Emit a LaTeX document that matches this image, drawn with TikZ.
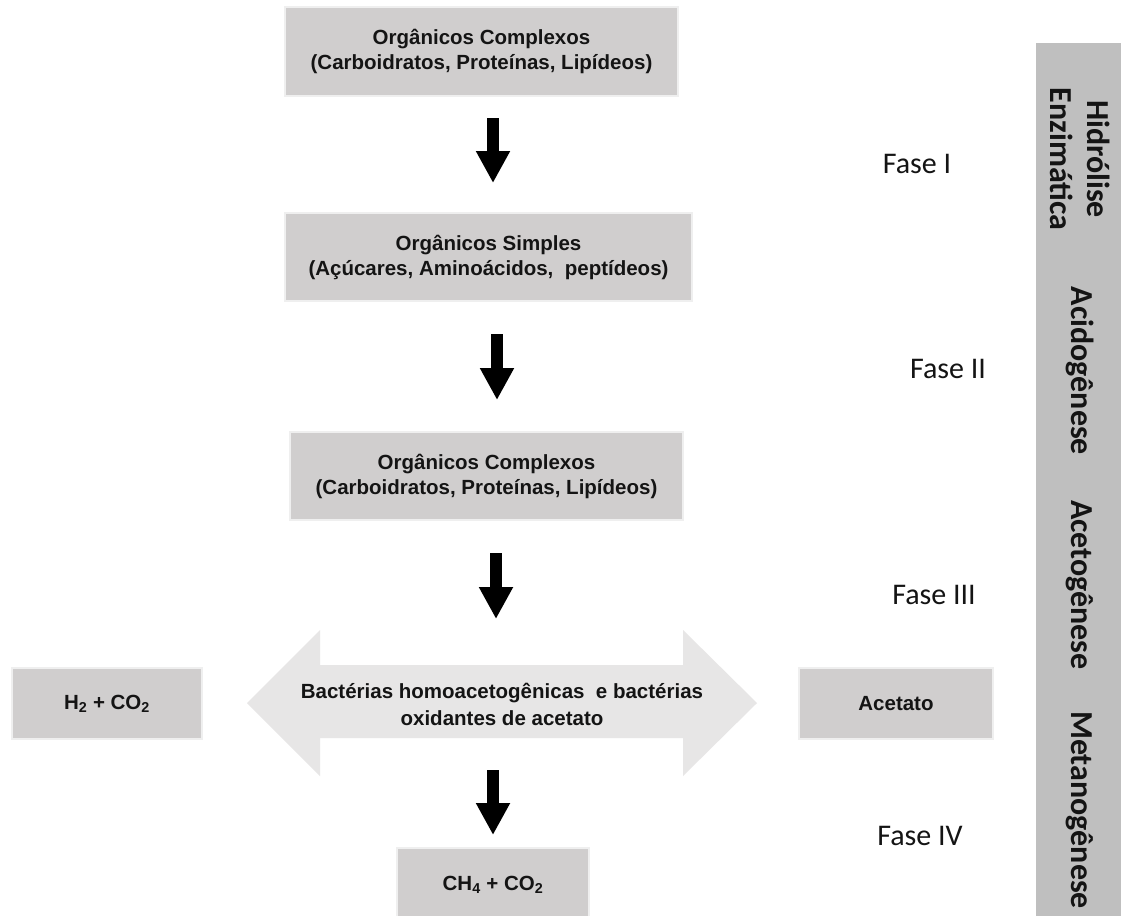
\documentclass[tikz,border=0pt]{standalone}
\usepackage{fontspec}
\setmainfont{Liberation Sans}
\newfontfamily\calfont{Carlito}
\usetikzlibrary{arrows.meta}
\definecolor{boxgray}{HTML}{D0CECE}
\definecolor{boxedge}{HTML}{EFEFEF}
\definecolor{arrowgray}{HTML}{E7E6E6}
\definecolor{bargray}{HTML}{BFBFBF}
\definecolor{ink}{HTML}{141414}
\begin{document}
\begin{tikzpicture}[x=1pt,y=-1pt,
  box/.style={fill=boxgray, draw=boxedge, line width=1.5pt, inner sep=0pt, align=center, text=ink,
    font=\fontsize{20.5}{25}\selectfont\bfseries},
  blk/.style={line width=12pt, -{Triangle[width=32pt,length=32pt]}},
  fase/.style={font=\calfont\fontsize{30}{36}\selectfont, text=ink},
  stage/.style={font=\calfont\bfseries\fontsize{32}{37}\selectfont, rotate=-90, align=center, text=ink, inner sep=0pt}]
\useasboundingbox (0,0) rectangle (1121,916);
\fill[white] (0,0) rectangle (1121,916);

% right bar
\fill[bargray] (1036,43) rectangle (1121,916);
\node[stage] (s1) at (1080,159) {Hidrólise\\Enzimática};
\node[stage] (s2) at (1080,371) {Acidogênese};
\node[stage] (s3) at (1080,585) {Acetogênese};
\node[stage] (s4) at (1080,810) {Metanogênese};

% boxes
\node[box, minimum width=393pt, minimum height=89pt] (b1) at (481.5,51.5) {Orgânicos Complexos\\(Carboidratos, Proteínas, Lipídeos)};
\node[box, minimum width=407pt, minimum height=88pt] (b2) at (488.5,257) {Orgânicos Simples\\(Açúcares, Aminoácidos,\ \ peptídeos)};
\node[box, minimum width=393pt, minimum height=88pt] (b3) at (486.5,476) {Orgânicos Complexos\\(Carboidratos, Proteínas, Lipídeos)};

% double block arrow
\fill[arrowgray] (247,703) -- (320,630) -- (320,665) -- (683,665) -- (683,630) -- (757,703)
  -- (683,776) -- (683,738) -- (320,738) -- (320,776) -- cycle;
\node[align=center, text=ink, font=\fontsize{20.5}{27}\selectfont\bfseries] (dbl) at (502,704)
  {Bactérias homoacetogênicas\ \ e bactérias\\oxidantes de acetato};

\node[box, minimum width=190pt, minimum height=71pt] (h2) at (107,703.5) {H\textsubscript{2} + CO\textsubscript{2}};
\node[box, minimum width=194pt, minimum height=71pt] (ac) at (896,703.5) {Acetato};
\fill[boxgray] (397,848) rectangle (589,916);
\draw[boxedge, line width=1.5pt] (397,916) -- (397,848) -- (589,848) -- (589,916);
\node[text=ink, font=\fontsize{20.5}{25}\selectfont\bfseries] (ch4) at (493,885) {CH\textsubscript{4} + CO\textsubscript{2}};

% block arrows
\coordinate (a1s) at (493,118); \coordinate (a1e) at (493,183);
\coordinate (a2s) at (497,334); \coordinate (a2e) at (497,400);
\coordinate (a3s) at (496,553); \coordinate (a3e) at (496,619);
\coordinate (a4s) at (493,770); \coordinate (a4e) at (493,835);
\draw[blk] (a1s) -- (a1e);
\draw[blk] (a2s) -- (a2e);
\draw[blk] (a3s) -- (a3e);
\draw[blk] (a4s) -- (a4e);

% phase labels
\node[fase] (f1) at (917,164) {Fase I};
\node[fase] (f2) at (948,369) {Fase II};
\node[fase] (f3) at (934,595) {Fase III};
\node[fase] (f4) at (920,836) {Fase IV};
\end{tikzpicture}
\end{document}
